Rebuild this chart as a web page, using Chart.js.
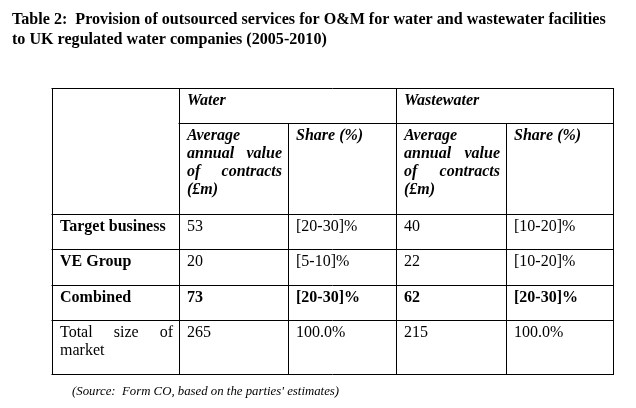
<!DOCTYPE html>
<html>
<head>
<meta charset="utf-8">
<script src="https://cdn.jsdelivr.net/npm/chart.js@4/dist/chart.umd.min.js"></script>
<style>
  html, body { margin: 0; padding: 0; background: #ffffff; }
  #wrap { width: 636px; height: 408px; }
</style>
</head>
<body>
<div id="wrap"><canvas id="c" width="636" height="408"></canvas></div>
<script>
// ---- data ----
const titleLines = [
  'Table 2:  Provision of outsourced services for O&M for water and wastewater facilities',
  'to UK regulated water companies (2005-2010)'
];
const groupHeaders = ['Water', 'Wastewater'];
const subHeaders = ['Average annual value of contracts (£m)', 'Share (%)'];
const rowLabels = ['Target business', 'VE Group', 'Combined', 'Total size of market'];
const waterValue = ['53', '20', '73', '265'];
const waterShare = ['[20-30]%', '[5-10]%', '[20-30]%', '100.0%'];
const wastewaterValue = ['40', '22', '62', '215'];
const wastewaterShare = ['[10-20]%', '[10-20]%', '[20-30]%', '100.0%'];
const boldRows = [true, true, true, false];      // row label bold
const boldValues = [false, false, true, false];  // value cells bold
const sourceNote = "(Source:  Form CO, based on the parties' estimates)";

// ---- layout (scale units) ----
const colEdges = [0, 1.27, 2.36, 3.44, 4.54, 5.61];
const rowEdges = [0, 0.35, 1.26, 1.61, 1.97, 2.32, 2.86];

const FONT = '"Liberation Serif", "Times New Roman", serif';
const FS = 16;
const LINE_H = 18.3;
const PAD_L = 8, PAD_R = 6, BASE_OFF = 16.5;

function wrapWords(ctx, text, maxW) {
  const words = text.split(' ');
  const lines = [];
  let cur = [];
  for (const w of words) {
    const test = cur.concat([w]).join(' ');
    if (cur.length && ctx.measureText(test).width > maxW) {
      lines.push(cur); cur = [w];
    } else cur.push(w);
  }
  if (cur.length) lines.push(cur);
  return lines;
}

function drawCell(ctx, text, x0, x1, yTop, font, justify) {
  ctx.font = font;
  const maxW = x1 - x0 - PAD_L - PAD_R;
  const lines = wrapWords(ctx, text, maxW);
  lines.forEach((words, i) => {
    const yb = yTop + BASE_OFF + i * LINE_H;
    const isLast = i === lines.length - 1;
    if (justify && !isLast && words.length > 1) {
      const wsum = words.reduce((s, w) => s + ctx.measureText(w).width, 0);
      const gap = (maxW - wsum) / (words.length - 1);
      let x = x0 + PAD_L;
      words.forEach(w => { ctx.fillText(w, x, yb); x += ctx.measureText(w).width + gap; });
    } else {
      ctx.fillText(words.join(' '), x0 + PAD_L, yb);
    }
  });
}

const tablePlugin = {
  id: 'tablePlugin',
  afterDraw(chart) {
    const ctx = chart.ctx;
    const xs = chart.scales.x, ys = chart.scales.y;
    const X = v => Math.round(xs.getPixelForValue(v));
    const Y = v => Math.round(ys.getPixelForValue(v));
    ctx.save();
    ctx.strokeStyle = '#000';
    ctx.lineWidth = 1;
    const h = (r, c0, c1) => { ctx.beginPath(); ctx.moveTo(X(colEdges[c0]) - 0.5, Y(rowEdges[r]) + 0.5); ctx.lineTo(X(colEdges[c1]) + 0.5, Y(rowEdges[r]) + 0.5); ctx.stroke(); };
    const v = (c, r0, r1) => { ctx.beginPath(); ctx.moveTo(X(colEdges[c]) + 0.5, Y(rowEdges[r0])); ctx.lineTo(X(colEdges[c]) + 0.5, Y(rowEdges[r1]) + 1); ctx.stroke(); };
    h(0, 0, 5);
    h(1, 1, 5);
    for (let r = 2; r < rowEdges.length; r++) h(r, 0, 5);
    [0, 1, 3, 5].forEach(c => v(c, 0, rowEdges.length - 1));
    [2, 4].forEach(c => v(c, 1, rowEdges.length - 1));

    ctx.fillStyle = '#000';
    ctx.textBaseline = 'alphabetic';
    ctx.textAlign = 'left';
    const bi = 'italic bold ' + FS + 'px ' + FONT;
    const b = 'bold ' + FS + 'px ' + FONT;
    const n = FS + 'px ' + FONT;
    // group headers
    drawCell(ctx, groupHeaders[0], X(colEdges[1]), X(colEdges[3]), Y(rowEdges[0]), bi, false);
    drawCell(ctx, groupHeaders[1], X(colEdges[3]), X(colEdges[5]), Y(rowEdges[0]), bi, false);
    // sub headers
    for (let g = 0; g < 2; g++) {
      subHeaders.forEach((s, k) => {
        const c = 1 + g * 2 + k;
        drawCell(ctx, s, X(colEdges[c]), X(colEdges[c + 1]), Y(rowEdges[1]), bi, true);
      });
    }
    // body
    rowLabels.forEach((lab, r) => {
      const yTop = Y(rowEdges[2 + r]);
      drawCell(ctx, lab, X(colEdges[0]), X(colEdges[1]), yTop, boldRows[r] ? b : n, true);
      const vals = [waterValue[r], waterShare[r], wastewaterValue[r], wastewaterShare[r]];
      vals.forEach((val, k) => {
        drawCell(ctx, val, X(colEdges[1 + k]), X(colEdges[2 + k]), yTop, boldValues[r] ? b : n, false);
      });
    });
    // source note
    ctx.font = 'italic 12.8px ' + FONT;
    ctx.fillText(sourceNote, X(colEdges[0]) + 20, Y(rowEdges[rowEdges.length - 1]) + 21);
    ctx.restore();
  }
};

new Chart(document.getElementById('c'), {
  type: 'scatter',
  data: { datasets: [{ data: [], pointRadius: 0 }] },
  options: {
    responsive: false,
    animation: false,
    events: [],
    layout: { padding: { left: 12, right: 0, top: 0, bottom: 0 } },
    plugins: {
      legend: { display: false },
      tooltip: { enabled: false },
      title: {
        display: true,
        text: titleLines,
        align: 'start',
        color: '#000',
        font: { family: FONT, size: 16.1, weight: 'bold', lineHeight: 1.242 },
        padding: { top: 10, bottom: 0 }
      }
    },
    scales: {
      x: { type: 'linear', display: false, min: -0.40, max: 5.84 },
      y: { type: 'linear', display: false, reverse: true, min: -0.38, max: 3.20 }
    }
  },
  plugins: [tablePlugin]
});
</script>
</body>
</html>
